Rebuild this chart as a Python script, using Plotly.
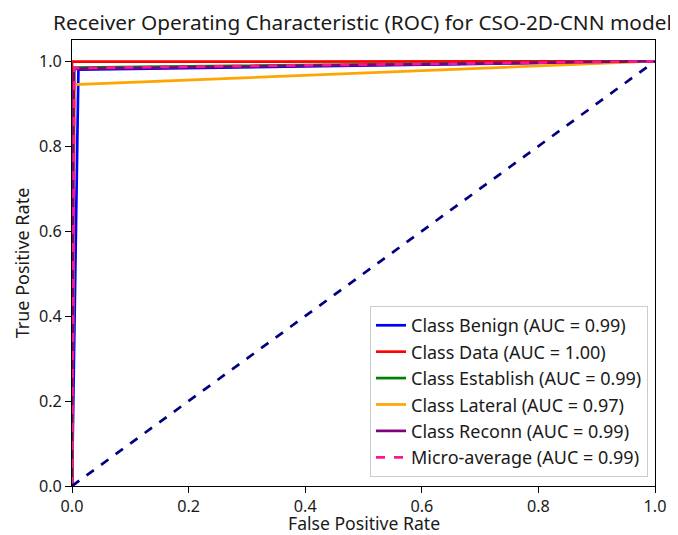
import plotly.graph_objects as go

# ROC data per class (fpr, tpr)
class_names = ["Benign", "Data", "Establish", "Lateral", "Reconn"]
class_auc = [0.99, 1.00, 0.99, 0.97, 0.99]
class_fpr = [
    [0.0, 0.011, 1.0],
    [0.0, 0.0, 1.0],
    [0.0, 0.004, 1.0],
    [0.0, 0.004, 1.0],
    [0.0, 0.003, 1.0],
]
class_tpr = [
    [0.0, 0.980, 1.0],
    [0.0, 0.999, 1.0],
    [0.0, 0.985, 1.0],
    [0.0, 0.945, 1.0],
    [0.0, 0.982, 1.0],
]
class_colors = ["blue", "red", "green", "orange", "purple"]

micro_fpr = [0.0, 0.004, 1.0]
micro_tpr = [0.0, 0.984, 1.0]
micro_auc = 0.99

diag_x = [0.0, 1.0]
diag_y = [0.0, 1.0]

x_ticks = [0.0, 0.2, 0.4, 0.6, 0.8, 1.0]
y_ticks = [0.0, 0.2, 0.4, 0.6, 0.8, 1.0]

FONT = "Noto Sans"
TXT = "#1a1a1a"

fig = go.Figure()
for name, auc, fx, ty, col in zip(class_names, class_auc, class_fpr, class_tpr, class_colors):
    fig.add_trace(go.Scatter(
        x=fx, y=ty, mode="lines",
        line=dict(color=col, width=2.7),
        name=f"Class {name} (AUC = {auc:.2f})",
    ))
fig.add_trace(go.Scatter(
    x=micro_fpr, y=micro_tpr, mode="lines",
    line=dict(color="deeppink", width=2.7, dash="dash"),
    name=f"Micro-average (AUC = {micro_auc:.2f})",
))
fig.add_trace(go.Scatter(
    x=diag_x, y=diag_y, mode="lines",
    line=dict(color="navy", width=2.7, dash="dash"),
    showlegend=False, hoverinfo="skip",
))

axis_common = dict(
    showgrid=False, zeroline=False, showline=True, linecolor="black", linewidth=1,
    mirror=True, ticks="outside", ticklen=6, tickwidth=1, tickcolor="black",
    tickformat=".1f", tickfont=dict(size=16.2, color=TXT, family=FONT),
    automargin=False,
)

# the page body adds an 8px offset, so the figure is sized 8px smaller
fig.update_layout(
    width=670, height=527,
    margin=dict(l=64, r=23, t=32, b=49),
    paper_bgcolor="white", plot_bgcolor="white",
    font=dict(family=FONT, color=TXT),
    title=dict(
        text="Receiver Operating Characteristic (ROC) for CSO-2D-CNN model",
        x=0.529, xanchor="center", y=0.972, yanchor="middle",
        font=dict(size=20.8, color=TXT, family=FONT),
    ),
    xaxis=dict(range=[0, 1], tickvals=x_ticks, **axis_common),
    yaxis=dict(range=[0, 1.05], tickvals=y_ticks,
               title=dict(text="True Positive Rate", font=dict(size=18), standoff=4),
               **axis_common),
    legend=dict(
        x=0.988, y=0.02, xanchor="right", yanchor="bottom",
        bgcolor="white", bordercolor="#cccccc", borderwidth=1,
        font=dict(size=18, color=TXT, family=FONT), tracegroupgap=0,
        itemwidth=30,
    ),
    showlegend=True,
)

fig.add_annotation(
    text="False Positive Rate", xref="paper", yref="paper",
    x=0.5, y=-0.083, xanchor="center", yanchor="middle",
    showarrow=False, font=dict(size=17.6, color=TXT, family=FONT),
)

fig.write_html("out.html")
